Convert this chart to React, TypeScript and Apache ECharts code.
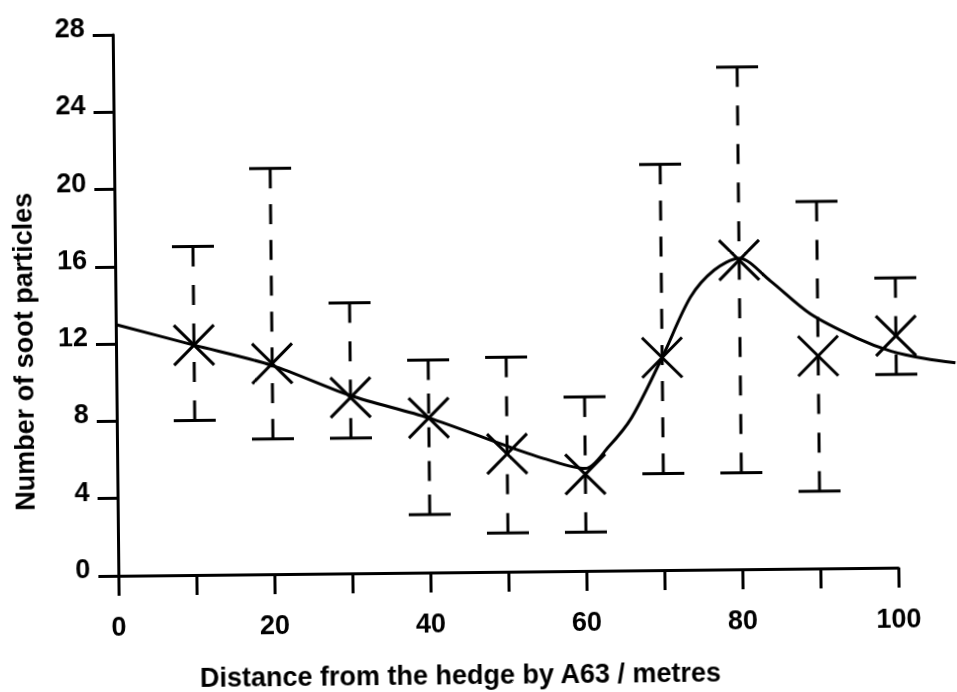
import React, { useEffect, useRef } from "react";
import * as echarts from "echarts";

// Measured points (distance in metres) with error bar ranges
const distances = [10, 20, 30, 40, 50, 60, 70, 80, 90, 100];
const meanCounts = [11.9, 10.9, 9.1, 8.0, 6.1, 5.0, 11.0, 16.0, 11.0, 12.0];
const upperCounts = [17, 21, 14, 11, 11.1, 9, 21, 26, 19, 15];
const lowerCounts = [8, 7, 7, 3, 2, 2, 5, 5, 4, 10];

// Fitted trend curve (continues a little past the last axis tick)
const fitX = [0, 10, 20, 30, 40, 50, 55, 60, 63, 66, 70, 73.7, 76.8, 80, 84, 89, 95, 99.4, 103.7, 107.6];
const fitY = [13.0, 11.9, 10.8, 9.2, 8.0, 6.5, 5.8, 5.3, 6.4, 7.9, 11.0, 14.1, 15.5, 16.1, 14.9, 13.2, 11.9, 11.2, 10.8, 10.57];

const yTicks = [0, 4, 8, 12, 16, 20, 24, 28];
const xLabelValues = [0, 20, 40, 60, 80, 100];

const xTitle = "Distance from the hedge by A63 / metres";
const yTitle = "Number of soot particles";

const FONT = "'Liberation Sans', Arial, Helvetica, sans-serif";

export default function App() {
  const ref = useRef<HTMLDivElement>(null);

  useEffect(() => {
    if (!ref.current) return;
    const chart = echarts.init(ref.current, null, { renderer: "svg" });

    const barData = distances.map((d, i) => [d, lowerCounts[i], upperCounts[i], meanCounts[i]]);
    const curveData = fitX.map((x, i) => [x, fitY[i]]);

    // plot: x 0..100 spans 780 px starting at left=116; the curve grid reaches the right edge
    const plotLeft = 116;
    const plotWidth = 780;
    const extMax = (100 * (957 - plotLeft)) / plotWidth;

    const option: any = {
      animation: false,
      backgroundColor: "#ffffff",
      grid: [
        { left: plotLeft, right: 957 - plotLeft - plotWidth, top: 31, bottom: 120, containLabel: false },
        { left: plotLeft, right: 0, top: 31, bottom: 120, containLabel: false },
      ],
      xAxis: [
        {
          type: "value",
          gridIndex: 0,
          min: 0,
          max: 100,
          interval: 10,
          axisLine: { show: true, onZero: false, lineStyle: { color: "#000", width: 3 } },
          axisTick: { show: true, inside: false, length: 20, lineStyle: { color: "#000", width: 3 } },
          axisLabel: {
            margin: 37,
            color: "#000",
            fontSize: 27,
            fontWeight: "bold",
            fontFamily: FONT,
            formatter: (v: number) => (xLabelValues.indexOf(v) >= 0 ? String(v) : ""),
          },
          splitLine: { show: false },
        },
        {
          type: "value",
          gridIndex: 1,
          min: 0,
          max: extMax,
          show: false,
          splitLine: { show: false },
        },
      ],
      yAxis: [
        {
          type: "value",
          gridIndex: 0,
          min: yTicks[0],
          max: yTicks[yTicks.length - 1],
          interval: 4,
          axisLine: { show: true, onZero: false, lineStyle: { color: "#000", width: 3 } },
          axisTick: { show: true, inside: false, length: 20, lineStyle: { color: "#000", width: 3 } },
          axisLabel: {
            margin: 28,
            color: "#000",
            fontSize: 27,
            fontWeight: "bold",
            fontFamily: FONT,
            verticalAlign: "bottom",
            lineHeight: 14,
          },
          splitLine: { show: false },
        },
        {
          type: "value",
          gridIndex: 1,
          min: yTicks[0],
          max: yTicks[yTicks.length - 1],
          show: false,
          splitLine: { show: false },
        },
      ],
      graphic: [
        {
          type: "text",
          x: 24,
          y: 347,
          rotation: Math.PI / 2,
          style: {
            text: yTitle,
            fill: "#000",
            font: `bold 27px ${FONT}`,
            lineHeight: 27,
            align: "center",
            verticalAlign: "middle",
          },
        },
        {
          type: "text",
          x: 457,
          y: 675,
          style: {
            text: xTitle,
            fill: "#000",
            font: `bold 27px ${FONT}`,
            lineHeight: 27,
            align: "center",
            verticalAlign: "middle",
          },
        },
      ],
      series: [
        {
          type: "custom",
          xAxisIndex: 0,
          yAxisIndex: 0,
          data: barData,
          encode: { x: 0, y: [1, 2] },
          clip: false,
          renderItem: (params: any, api: any) => {
            const x = api.value(0);
            const lo = api.value(1);
            const hi = api.value(2);
            const m = api.value(3);
            const top = api.coord([x, hi]);
            const bot = api.coord([x, lo]);
            const c = api.coord([x, m]);
            const cap = 21;
            const stem = 20;
            const dash = 20;
            const arm = 20;
            const ls = { stroke: "#000", lineWidth: 3, fill: null };
            const children: any[] = [
              { type: "line", shape: { x1: top[0] - cap, y1: top[1], x2: top[0] + cap, y2: top[1] }, style: ls },
              { type: "line", shape: { x1: top[0], y1: top[1], x2: top[0], y2: top[1] + stem }, style: ls },
              { type: "line", shape: { x1: bot[0] - cap, y1: bot[1], x2: bot[0] + cap, y2: bot[1] }, style: ls },
              { type: "line", shape: { x1: bot[0], y1: bot[1], x2: bot[0], y2: bot[1] - stem }, style: ls },
              { type: "line", shape: { x1: c[0] - arm, y1: c[1] - arm, x2: c[0] + arm, y2: c[1] + arm }, style: ls },
              { type: "line", shape: { x1: c[0] - arm, y1: c[1] + arm, x2: c[0] + arm, y2: c[1] - arm }, style: ls },
            ];
            // evenly spaced dashes between the two solid stems
            const inner = bot[1] - stem - (top[1] + stem);
            const n = Math.round((inner - 18) / 38);
            if (n >= 1) {
              const g = (inner - n * dash) / (n + 1);
              const y1 = top[1] + stem + g;
              const y2 = bot[1] - stem - g;
              children.push({
                type: "line",
                shape: { x1: top[0], y1, x2: top[0], y2 },
                style: { stroke: "#000", lineWidth: 3, lineDash: [dash, g], fill: null },
              });
            }
            return { type: "group", children };
          },
          z: 2,
        },
        {
          type: "line",
          xAxisIndex: 1,
          yAxisIndex: 1,
          data: curveData,
          showSymbol: false,
          symbol: "none",
          smooth: 0.3,
          clip: false,
          lineStyle: { color: "#000", width: 3 },
          z: 3,
        },
      ],
    };

    chart.setOption(option);
    return () => chart.dispose();
  }, []);

  return (
    <div
      style={{
        position: "fixed",
        left: 0,
        top: 0,
        width: 957,
        height: 692,
        background: "#fff",
        transform: "rotate(-0.6deg)",
        transformOrigin: "50% 50%",
      }}
    >
      <div ref={ref} style={{ width: 957, height: 692 }} />
    </div>
  );
}
